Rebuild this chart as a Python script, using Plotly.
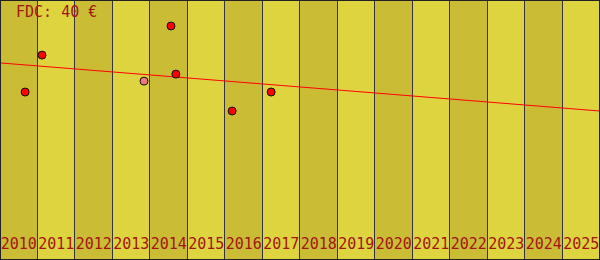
import plotly.graph_objects as go

years = list(range(2010, 2026))
band_colors = ["#cabd35" if i % 2 == 0 else "#ded43f" for i in range(len(years))]

pt_x = [2010.17, 2010.62, 2013.34, 2014.06, 2014.19, 2015.69, 2016.73]
pt_y = [64.6, 78.8, 68.8, 90.0, 71.5, 57.3, 64.6]
pt_colors = ["#ff0000", "#ff0000", "#f07878", "#ff0000", "#ff0000", "#ff0000", "#ff0000"]

trend_x = [2009.5, 2025.5]
trend_y = [75.8, 57.3]

label_y = 5.6
title_text = "FDC: 40 €"
text_color = "#a31512"
mono = "DejaVu Sans Mono"

fig = go.Figure()
fig.add_trace(go.Bar(
    x=years, y=[100] * len(years), width=1,
    marker=dict(color=band_colors, line=dict(color="#333344", width=1)),
    hoverinfo="skip",
))
fig.add_trace(go.Scatter(
    x=trend_x, y=trend_y, mode="lines",
    line=dict(color="#ff0000", width=1), hoverinfo="skip",
))
fig.add_trace(go.Scatter(
    x=pt_x, y=pt_y, mode="markers",
    marker=dict(size=8, color=pt_colors, line=dict(color="#111111", width=1)),
    hoverinfo="skip",
))
fig.add_trace(go.Scatter(
    x=years, y=[label_y] * len(years), mode="text",
    text=[str(y) for y in years], textposition="middle center",
    textfont=dict(family=mono, size=15, color=text_color), hoverinfo="skip",
))
fig.add_annotation(
    x=14 / 600, y=1 - 12 / 260, xref="paper", yref="paper",
    xanchor="left", yanchor="middle", text=title_text, showarrow=False,
    font=dict(family=mono, size=15, color=text_color),
)
fig.add_shape(type="rect", xref="paper", yref="paper", x0=0, y0=0, x1=1, y1=1,
              line=dict(color="#222222", width=2))
fig.update_layout(
    width=600, height=260, margin=dict(l=0, r=0, t=0, b=0),
    showlegend=False, bargap=0, paper_bgcolor="#ded43f", plot_bgcolor="#ded43f",
    xaxis=dict(range=[2009.5, 2025.5], visible=False, fixedrange=True),
    yaxis=dict(range=[0, 100], visible=False, fixedrange=True),
)
fig.write_html("out.html", config={"displayModeBar": False})
